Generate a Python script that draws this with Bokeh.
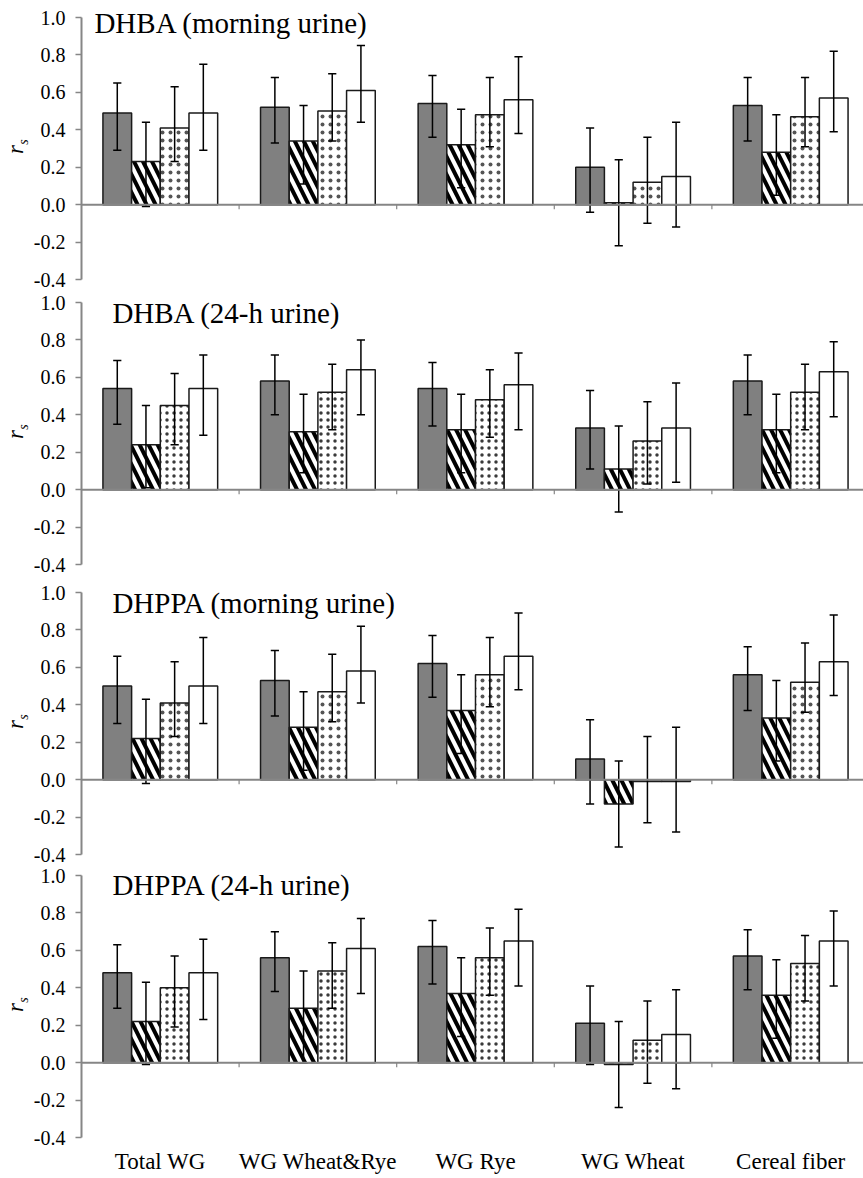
import numpy as np
from bokeh.plotting import figure
from bokeh.layouts import column, row
from bokeh.models import (ColumnDataSource, Span, Label,
                          FixedTicker, PrintfTickFormatter, Range1d)
from bokeh.embed import file_html
from bokeh.resources import INLINE

# ---------------- data ----------------
categories = ["Total WG", "WG Wheat&Rye", "WG Rye", "WG Wheat", "Cereal fiber"]
y_ticks = [-0.4, -0.2, 0.0, 0.2, 0.4, 0.6, 0.8, 1.0]
panel_titles = ["DHBA (morning urine)", "DHBA (24-h urine)",
                "DHPPA (morning urine)", "DHPPA (24-h urine)"]

# each list: [solid grey, diagonal hatch, dotted, open] x 5 categories
dhba_morning_r = [[0.49, 0.52, 0.54, 0.20, 0.53],
                  [0.23, 0.34, 0.32, 0.01, 0.28],
                  [0.41, 0.50, 0.48, 0.12, 0.47],
                  [0.49, 0.61, 0.56, 0.15, 0.57]]
dhba_morning_lo = [[0.29, 0.33, 0.36, -0.04, 0.34],
                   [-0.01, 0.11, 0.09, -0.22, 0.05],
                   [0.23, 0.34, 0.31, -0.10, 0.31],
                   [0.29, 0.44, 0.38, -0.12, 0.39]]
dhba_morning_hi = [[0.65, 0.68, 0.69, 0.41, 0.68],
                   [0.44, 0.53, 0.51, 0.24, 0.48],
                   [0.63, 0.70, 0.68, 0.36, 0.68],
                   [0.75, 0.85, 0.79, 0.44, 0.82]]

dhba_24h_r = [[0.54, 0.58, 0.54, 0.33, 0.58],
              [0.24, 0.31, 0.32, 0.11, 0.32],
              [0.45, 0.52, 0.48, 0.26, 0.52],
              [0.54, 0.64, 0.56, 0.33, 0.63]]
dhba_24h_lo = [[0.35, 0.40, 0.34, 0.11, 0.40],
               [0.01, 0.09, 0.09, -0.12, 0.09],
               [0.24, 0.32, 0.28, 0.03, 0.32],
               [0.29, 0.40, 0.32, 0.04, 0.39]]
dhba_24h_hi = [[0.69, 0.72, 0.68, 0.53, 0.72],
               [0.45, 0.51, 0.51, 0.34, 0.51],
               [0.62, 0.67, 0.64, 0.47, 0.67],
               [0.72, 0.80, 0.73, 0.57, 0.79]]

dhppa_morning_r = [[0.50, 0.53, 0.62, 0.11, 0.56],
                   [0.22, 0.28, 0.37, -0.13, 0.33],
                   [0.41, 0.47, 0.56, -0.01, 0.52],
                   [0.50, 0.58, 0.66, -0.01, 0.63]]
dhppa_morning_lo = [[0.30, 0.34, 0.44, -0.13, 0.37],
                    [-0.02, 0.05, 0.14, -0.36, 0.10],
                    [0.23, 0.31, 0.39, -0.23, 0.36],
                    [0.30, 0.41, 0.48, -0.28, 0.45]]
dhppa_morning_hi = [[0.66, 0.69, 0.77, 0.32, 0.71],
                    [0.43, 0.47, 0.56, 0.10, 0.53],
                    [0.63, 0.67, 0.76, 0.23, 0.73],
                    [0.76, 0.82, 0.89, 0.28, 0.88]]

dhppa_24h_r = [[0.48, 0.56, 0.62, 0.21, 0.57],
               [0.22, 0.29, 0.37, -0.01, 0.36],
               [0.40, 0.49, 0.56, 0.12, 0.53],
               [0.48, 0.61, 0.65, 0.15, 0.65]]
dhppa_24h_lo = [[0.29, 0.38, 0.42, -0.01, 0.39],
                [-0.01, 0.00, 0.14, -0.24, 0.13],
                [0.19, 0.29, 0.36, -0.11, 0.33],
                [0.23, 0.37, 0.41, -0.14, 0.41]]
dhppa_24h_hi = [[0.63, 0.70, 0.76, 0.41, 0.71],
                [0.43, 0.49, 0.56, 0.22, 0.55],
                [0.57, 0.64, 0.72, 0.33, 0.68],
                [0.66, 0.77, 0.82, 0.39, 0.81]]

# ---------------- styling ----------------
SERIF = "Liberation Serif"
AXIS_GREY = "#868686"
Y_LO, Y_HI = -0.4, 1.0
FRAME_H = 262
PXU = FRAME_H / (Y_HI - Y_LO)
CAT_PX = 158
LAB_W = 30
FIG_W = 863 - LAB_W
BORDER_L = 79 - LAB_W
BAR_W = 0.182
CAP_HALF = 0.026


def series_style(k, dot_scale, dot_color):
    base = dict(line_color="#1a1a1a", line_width=1.5)
    if k == 0:
        base.update(fill_color="#808080")
    elif k == 1:
        base.update(fill_color="white", hatch_pattern="left_diagonal_line",
                    hatch_color="black", hatch_weight=4, hatch_scale=18)
    elif k == 2:
        base.update(fill_color="white", hatch_pattern="dot",
                    hatch_color=dot_color, hatch_weight=1, hatch_scale=dot_scale)
    else:
        base.update(fill_color="white")
    return base


def y_range_for(top_px):
    # frame extends into the top margin so that titles are not clipped
    return Range1d(Y_LO, Y_HI + top_px / PXU)


def make_label_fig(top_px, bot_b):
    q = figure(width=LAB_W, height=top_px + FRAME_H + bot_b,
               x_range=Range1d(0, LAB_W), y_range=y_range_for(top_px),
               output_backend="svg", toolbar_location=None,
               x_axis_location=None, y_axis_location=None,
               min_border_left=0, min_border_right=0,
               min_border_top=0, min_border_bottom=bot_b)
    q.outline_line_color = None
    q.xgrid.visible = False
    q.ygrid.visible = False
    q.add_layout(Label(x=15, y=0.295, text="r", text_font=SERIF,
                       text_font_style="italic", text_font_size="23px",
                       angle=np.pi / 2, text_align="center",
                       text_baseline="middle", text_color="black"))
    q.add_layout(Label(x=22.5, y=0.335, text="s", text_font=SERIF,
                       text_font_style="italic", text_font_size="14px",
                       angle=np.pi / 2, text_align="center",
                       text_baseline="middle", text_color="black"))
    return q


def make_panel(title, vals, lo, hi, title_x, title_y, top_px, bot_b,
               dot_scale, dot_color, show_x):
    n = len(categories)
    x_end = -0.5 + (FIG_W - BORDER_L) / CAT_PX
    p = figure(width=FIG_W, height=top_px + FRAME_H + bot_b,
               x_range=Range1d(-0.5, x_end), y_range=y_range_for(top_px),
               output_backend="svg", toolbar_location=None,
               x_axis_location="below" if show_x else None,
               min_border_left=BORDER_L, min_border_right=0,
               min_border_top=0, min_border_bottom=bot_b)
    p.outline_line_color = None
    p.xgrid.visible = False
    p.ygrid.visible = False
    p.background_fill_color = "white"
    p.border_fill_color = "white"

    yax = p.yaxis[0]
    yax.bounds = (Y_LO, Y_HI)
    yax.ticker = FixedTicker(ticks=y_ticks)
    yax.formatter = PrintfTickFormatter(format="%.1f")
    yax.axis_line_color = AXIS_GREY
    yax.axis_line_width = 2
    yax.major_tick_line_color = AXIS_GREY
    yax.major_tick_line_width = 1.5
    yax.major_tick_out = 6
    yax.major_tick_in = 0
    yax.minor_tick_line_color = None
    yax.major_label_text_font = SERIF
    yax.major_label_text_font_size = "20px"
    yax.major_label_text_color = "black"
    yax.major_label_standoff = 10

    if show_x:
        xax = p.xaxis[0]
        xax.ticker = FixedTicker(ticks=list(range(n)))
        xax.major_label_overrides = {i: c for i, c in enumerate(categories)}
        xax.axis_line_color = None
        xax.major_tick_line_color = None
        xax.minor_tick_line_color = None
        xax.major_label_text_font = SERIF
        xax.major_label_text_font_size = "23px"
        xax.major_label_text_color = "black"
        xax.major_label_standoff = 5

    xs = np.arange(n)
    nser = len(vals)
    sources = []
    for k in range(nser):
        off = (k - (nser - 1) / 2) * BAR_W
        src = ColumnDataSource(dict(x=xs + off, top=vals[k],
                                    lo=lo[k], hi=hi[k],
                                    cl=xs + off - CAP_HALF, cr=xs + off + CAP_HALF))
        sources.append(src)
        p.vbar(x="x", top="top", bottom=0, width=BAR_W, source=src,
               **series_style(k, dot_scale, dot_color))

    # horizontal category axis at zero with separator ticks
    p.add_layout(Span(location=0, dimension="width", line_color=AXIS_GREY,
                      line_width=2, level="glyph"))
    seps = np.arange(n - 1) + 0.5
    p.segment(x0=seps, y0=np.zeros(len(seps)), x1=seps,
              y1=np.full(len(seps), -0.025), line_color=AXIS_GREY, line_width=1.2)

    # error bars drawn after the bars
    for src in sources:
        p.segment(x0="x", y0="lo", x1="x", y1="hi", source=src,
                  line_color="black", line_width=1.5)
        p.segment(x0="cl", y0="hi", x1="cr", y1="hi", source=src,
                  line_color="black", line_width=1.5)
        p.segment(x0="cl", y0="lo", x1="cr", y1="lo", source=src,
                  line_color="black", line_width=1.5)

    p.add_layout(Label(x=title_x, y=title_y, text=title, text_font=SERIF,
                       text_font_size="29px", text_color="black",
                       text_baseline="middle", text_align="left"))
    return row(make_label_fig(top_px, bot_b), p, spacing=0)


p1 = make_panel(panel_titles[0], dhba_morning_r, dhba_morning_lo, dhba_morning_hi,
                -0.418, 0.968, 17, 11, 8, "#555555", False)
p2 = make_panel(panel_titles[1], dhba_24h_r, dhba_24h_lo, dhba_24h_hi,
                -0.304, 0.942, 12, 16, 7, "#3a3a3a", False)
p3 = make_panel(panel_titles[2], dhppa_morning_r, dhppa_morning_lo, dhppa_morning_hi,
                -0.304, 0.942, 12, 11, 8, "#555555", False)
p4 = make_panel(panel_titles[3], dhppa_24h_r, dhppa_24h_lo, dhppa_24h_hi,
                -0.304, 0.95, 10, 41, 7, "#3a3a3a", True)

layout = column(p1, p2, p3, p4, spacing=0)
open("out.html", "w").write(file_html(layout, INLINE))
